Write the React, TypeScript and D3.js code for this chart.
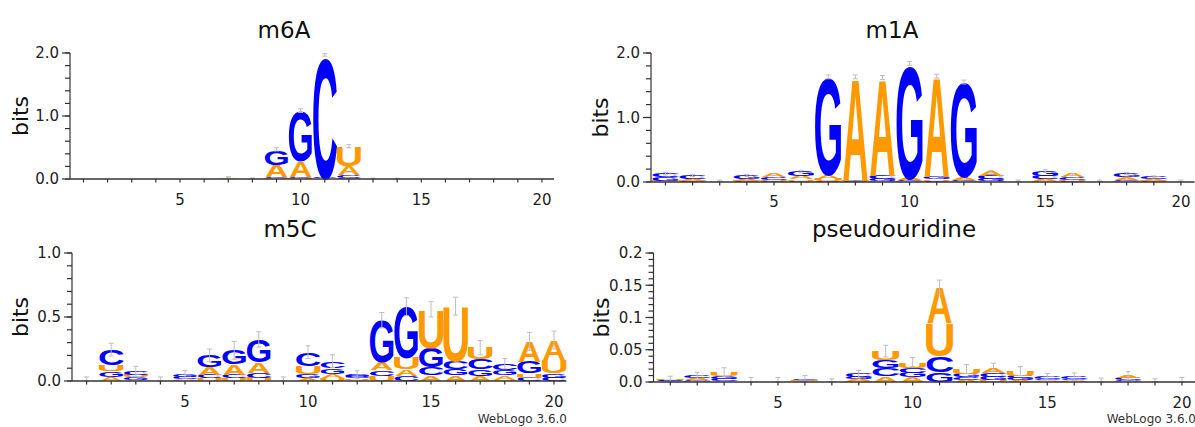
import React from "react";
import * as d3 from "d3";

// ---------- data ----------
const positions = [1, 2, 3, 4, 5, 6, 7, 8, 9, 10, 11, 12, 13, 14, 15, 16, 17, 18, 19, 20];
const xTickLabels = [5, 10, 15, 20];
const bases = ["A", "C", "G", "U"];
const baseColors: Record<string, string> = { A: "#ff9900", C: "#0000ff", G: "#0000ff", U: "#ff9900" };

// m6A
const m6A_A = [0.001, 0.001, 0.001, 0.001, 0.001, 0.001, 0.022, 0.003, 0.2, 0.26, 0.004, 0.15, 0.002, 0.002, 0, 0, 0, 0, 0, 0];
const m6A_C = [0, 0, 0, 0, 0, 0, 0.002, 0.001, 0.02, 0.015, 1.95, 0.04, 0.001, 0.001, 0, 0, 0, 0, 0, 0];
const m6A_G = [0, 0, 0, 0, 0, 0, 0.001, 0.001, 0.24, 0.8, 0.01, 0.02, 0.001, 0.001, 0, 0, 0, 0, 0, 0];
const m6A_U = [0, 0, 0, 0, 0, 0, 0.002, 0.001, 0.01, 0.01, 0.005, 0.31, 0.001, 0.001, 0, 0, 0, 0, 0, 0];
const m6A_err = [0, 0, 0, 0, 0, 0, 0.01, 0.01, 0.025, 0.03, 0.02, 0.025, 0.008, 0.008, 0, 0, 0, 0, 0, 0];

// m1A
const m1A_A = [0.01, 0.03, 0.005, 0.03, 0.05, 0.05, 0.06, 1.6, 1.52, 0.03, 1.56, 0.04, 0.07, 0.005, 0.04, 0.05, 0.005, 0.04, 0.03, 0.005];
const m1A_C = [0.06, 0.05, 0.005, 0.01, 0.04, 0.02, 0.02, 0.01, 0.06, 0.02, 0.02, 0.02, 0.05, 0.005, 0.05, 0.04, 0.005, 0.02, 0.03, 0.005];
const m1A_G = [0.05, 0.01, 0.005, 0.05, 0.01, 0.07, 1.52, 0.01, 0.03, 1.78, 0.04, 1.48, 0.03, 0.005, 0.07, 0.01, 0.005, 0.06, 0.01, 0.005];
const m1A_U = [0.01, 0.01, 0.005, 0.01, 0.02, 0.02, 0.03, 0.01, 0.01, 0.01, 0.02, 0.01, 0.01, 0.005, 0.01, 0.02, 0.005, 0.01, 0.01, 0.005];
const m1A_err = [0.02, 0.015, 0.01, 0.015, 0.015, 0.02, 0.03, 0.03, 0.03, 0.03, 0.03, 0.03, 0.02, 0.01, 0.02, 0.015, 0.01, 0.02, 0.015, 0.01];

// m5C
const m5C_A = [0.003, 0.03, 0.01, 0.003, 0.01, 0.065, 0.08, 0.08, 0.003, 0.02, 0.035, 0.01, 0.06, 0.05, 0.045, 0.045, 0.04, 0.035, 0.16, 0.155];
const m5C_C = [0.003, 0.12, 0.025, 0.003, 0.015, 0.025, 0.03, 0.04, 0.003, 0.105, 0.055, 0.015, 0.045, 0.04, 0.065, 0.06, 0.08, 0.05, 0.025, 0.025];
const m5C_G = [0.003, 0.045, 0.02, 0.003, 0.02, 0.09, 0.11, 0.18, 0.003, 0.035, 0.045, 0.015, 0.33, 0.4, 0.15, 0.05, 0.05, 0.04, 0.09, 0.035];
const m5C_U = [0.003, 0.05, 0.02, 0.003, 0.008, 0.02, 0.02, 0.025, 0.003, 0.065, 0.02, 0.01, 0.04, 0.09, 0.3, 0.43, 0.09, 0.01, 0.035, 0.105];
const m5C_err = [0.02, 0.05, 0.04, 0.02, 0.03, 0.05, 0.07, 0.06, 0.02, 0.05, 0.05, 0.03, 0.06, 0.07, 0.06, 0.07, 0.055, 0.04, 0.07, 0.07];

// pseudouridine
const psi_A = [0.001, 0.003, 0.002, 0.0005, 0.0005, 0.001, 0.0005, 0.003, 0.009, 0.007, 0.055, 0.003, 0.009, 0.003, 0.002, 0.002, 0.0005, 0.004, 0.0005, 0.0005];
const psi_C = [0.001, 0.004, 0.003, 0.0005, 0.0005, 0.002, 0.0005, 0.005, 0.012, 0.008, 0.025, 0.004, 0.006, 0.004, 0.003, 0.003, 0.0005, 0.003, 0.0005, 0.0005];
const psi_G = [0.001, 0.002, 0.004, 0.0005, 0.0005, 0.001, 0.0005, 0.003, 0.013, 0.007, 0.015, 0.006, 0.005, 0.003, 0.002, 0.002, 0.0005, 0.002, 0.0005, 0.0005];
const psi_U = [0.001, 0.001, 0.006, 0.0005, 0.0005, 0.001, 0.0005, 0.001, 0.014, 0.009, 0.052, 0.007, 0.003, 0.007, 0.001, 0.001, 0.0005, 0.001, 0.0005, 0.0005];
const psi_err = [0.005, 0.005, 0.007, 0.005, 0.005, 0.005, 0.003, 0.006, 0.009, 0.007, 0.011, 0.007, 0.006, 0.007, 0.005, 0.006, 0.004, 0.006, 0.003, 0.005];

// axis labels
const m6A_yTicks = [0, 1, 2];
const m6A_yLabels = ["0.0", "1.0", "2.0"];
const m5C_yTicks = [0, 0.5, 1];
const m5C_yLabels = ["0.0", "0.5", "1.0"];
const psi_yTicks = [0, 0.05, 0.1, 0.15, 0.2];
const psi_yLabels = ["0.0", "0.05", "0.1", "0.15", "0.2"];

const FONT = "'DejaVu Sans', sans-serif";
const LETTER_FONT = "'Liberation Sans', Arial, sans-serif";
const CAP = 0.716; // cap height ratio of letter font
// approximate ink extent of each bold glyph as a fraction of its advance width
const INK: Record<string, [number, number]> = {
  A: [0.0, 1.0],
  C: [0.06, 0.935],
  G: [0.06, 0.93],
  U: [0.1, 0.9],
};

type Cfg = {
  title: string;
  data: Record<string, number[]>;
  err: number[];
  yMax: number;
  yTicks: number[];
  yLabels: string[];
  minorCount: number;
  x0: number;
  x1: number;
  yBase: number;
  yTop: number;
  axisX: number;
  titleX: number;
  titleY: number;
  bitsX: number;
  xLabelY: number;
  credit?: [number, number];
};

function LogoPanel({ cfg }: { cfg: Cfg }) {
  const x = d3.scaleBand<number>().domain(positions).range([cfg.x0, cfg.x1]).padding(0);
  const y = d3.scaleLinear().domain([0, cfg.yMax]).range([cfg.yBase, cfg.yTop]);
  const bw = x.bandwidth();
  const minor = y.ticks(cfg.minorCount);
  const axisColor = "#333";

  const stacks = positions.map((p, i) => {
    const letters = bases
      .map((b) => ({ b, h: cfg.data[b][i] }))
      .filter((d) => d.h > 0)
      .sort((a, b) => a.h - b.h);
    let cum = 0;
    const items = letters.map((d) => {
      const lo = cum;
      cum += d.h;
      return { ...d, lo, hi: cum };
    });
    return { p, items, total: cum, e: cfg.err[i] };
  });

  return (
    <g>
      <text x={cfg.titleX} y={cfg.titleY} textAnchor="middle" fontFamily={FONT} fontSize={23} fill="#111">
        {cfg.title}
      </text>
      <text
        transform={`translate(${cfg.bitsX},${(cfg.yBase + cfg.yTop) / 2}) rotate(-90)`}
        textAnchor="middle"
        fontFamily={FONT}
        fontSize={22}
        fill="#111"
      >
        bits
      </text>
      {/* letters */}
      {stacks.map((s) => (
        <g key={s.p}>
          {s.items.map((it) => {
            const yb = y(it.lo);
            const yt = y(it.hi);
            const h = yb - yt;
            if (h < 0.3) return null;
            const sy = h / (100 * CAP);
            const [l, r] = INK[it.b];
            const inkW = bw - 1.2;
            const tl = inkW / (r - l);
            const sx = (x(s.p) as number) + 0.6 - l * tl;
            return (
              <text
                key={it.b}
                transform={`translate(${sx},${yb}) scale(1,${sy})`}
                x={0}
                y={0}
                fontFamily={LETTER_FONT}
                fontWeight="bold"
                fontSize={100}
                textLength={tl}
                lengthAdjust="spacingAndGlyphs"
                fill={baseColors[it.b]}
              >
                {it.b}
              </text>
            );
          })}
        </g>
      ))}
      {/* error bars */}
      {stacks.map((s) => {
        if (!s.e) return null;
        const cx = (x(s.p) as number) + bw / 2;
        const yt = y(s.total + s.e);
        const yb = Math.min(y(Math.max(0, s.total - s.e)), cfg.yBase);
        return (
          <g key={"e" + s.p} stroke="#bdbdbd" strokeWidth={1}>
            <line x1={cx} x2={cx} y1={yt} y2={yb} />
            <line x1={cx - 2.5} x2={cx + 2.5} y1={yt} y2={yt} />
            <line x1={cx - 2.5} x2={cx + 2.5} y1={yb} y2={yb} />
          </g>
        );
      })}
      {/* y axis */}
      <line x1={cfg.axisX} x2={cfg.axisX} y1={cfg.yBase} y2={cfg.yTop} stroke={axisColor} strokeWidth={1.2} />
      {minor.map((t) => (
        <line key={"m" + t} x1={cfg.axisX - 5} x2={cfg.axisX} y1={y(t)} y2={y(t)} stroke={axisColor} strokeWidth={1.2} />
      ))}
      {cfg.yTicks.map((t, i) => (
        <g key={"y" + t}>
          <line x1={cfg.axisX - 8} x2={cfg.axisX} y1={y(t)} y2={y(t)} stroke={axisColor} strokeWidth={1.2} />
          <text
            x={cfg.axisX - 11}
            y={y(t)}
            dy="0.36em"
            textAnchor="end"
            fontFamily={FONT}
            fontSize={15}
            fill="#222"
          >
            {cfg.yLabels[i]}
          </text>
        </g>
      ))}
      {/* x axis */}
      <line x1={cfg.axisX} x2={cfg.x1} y1={cfg.yBase} y2={cfg.yBase} stroke={axisColor} strokeWidth={1.3} />
      {positions.map((p) => {
        const cx = (x(p) as number) + bw / 2;
        return <line key={"xt" + p} x1={cx} x2={cx} y1={cfg.yBase} y2={cfg.yBase + 3.5} stroke={axisColor} strokeWidth={1.2} />;
      })}
      {xTickLabels.map((p) => (
        <text
          key={"xl" + p}
          x={(x(p) as number) + bw / 2}
          y={cfg.xLabelY}
          textAnchor="middle"
          fontFamily={FONT}
          fontSize={15}
          fill="#222"
        >
          {p}
        </text>
      ))}
      {cfg.credit && (
        <text x={cfg.credit[0]} y={cfg.credit[1]} textAnchor="end" fontFamily={FONT} fontSize={12} fill="#333">
          WebLogo 3.6.0
        </text>
      )}
    </g>
  );
}

const panels: Cfg[] = [
  {
    title: "m6A",
    data: { A: m6A_A, C: m6A_C, G: m6A_G, U: m6A_U },
    err: m6A_err,
    yMax: 2,
    yTicks: m6A_yTicks,
    yLabels: m6A_yLabels,
    minorCount: 10,
    x0: 71.4,
    x1: 554,
    yBase: 179,
    yTop: 53,
    axisX: 70,
    titleX: 284,
    titleY: 38,
    bitsX: 28,
    xLabelY: 205,
  },
  {
    title: "m1A",
    data: { A: m1A_A, C: m1A_C, G: m1A_G, U: m1A_U },
    err: m1A_err,
    yMax: 2,
    yTicks: m6A_yTicks,
    yLabels: m6A_yLabels,
    minorCount: 10,
    x0: 651.9,
    x1: 1194.5,
    yBase: 182,
    yTop: 53,
    axisX: 651,
    titleX: 892,
    titleY: 38,
    bitsX: 608,
    xLabelY: 207,
  },
  {
    title: "m5C",
    data: { A: m5C_A, C: m5C_C, G: m5C_G, U: m5C_U },
    err: m5C_err,
    yMax: 1,
    yTicks: m5C_yTicks,
    yLabels: m5C_yLabels,
    minorCount: 10,
    x0: 74.3,
    x1: 566.3,
    yBase: 381,
    yTop: 253,
    axisX: 72,
    titleX: 290,
    titleY: 237,
    bitsX: 28,
    xLabelY: 407,
    credit: [567, 423],
  },
  {
    title: "pseudouridine",
    data: { A: psi_A, C: psi_C, G: psi_G, U: psi_U },
    err: psi_err,
    yMax: 0.2,
    yTicks: psi_yTicks,
    yLabels: psi_yLabels,
    minorCount: 20,
    x0: 656.8,
    x1: 1195.4,
    yBase: 382,
    yTop: 253,
    axisX: 653.5,
    titleX: 894,
    titleY: 237,
    bitsX: 609,
    xLabelY: 408,
    credit: [1196, 423],
  },
];

export default function App() {
  return (
    <svg
      width={1195}
      height={427}
      style={{ position: "absolute", left: 0, top: 0, background: "#fff" }}
    >
      {panels.map((c) => (
        <LogoPanel key={c.title} cfg={c} />
      ))}
    </svg>
  );
}
